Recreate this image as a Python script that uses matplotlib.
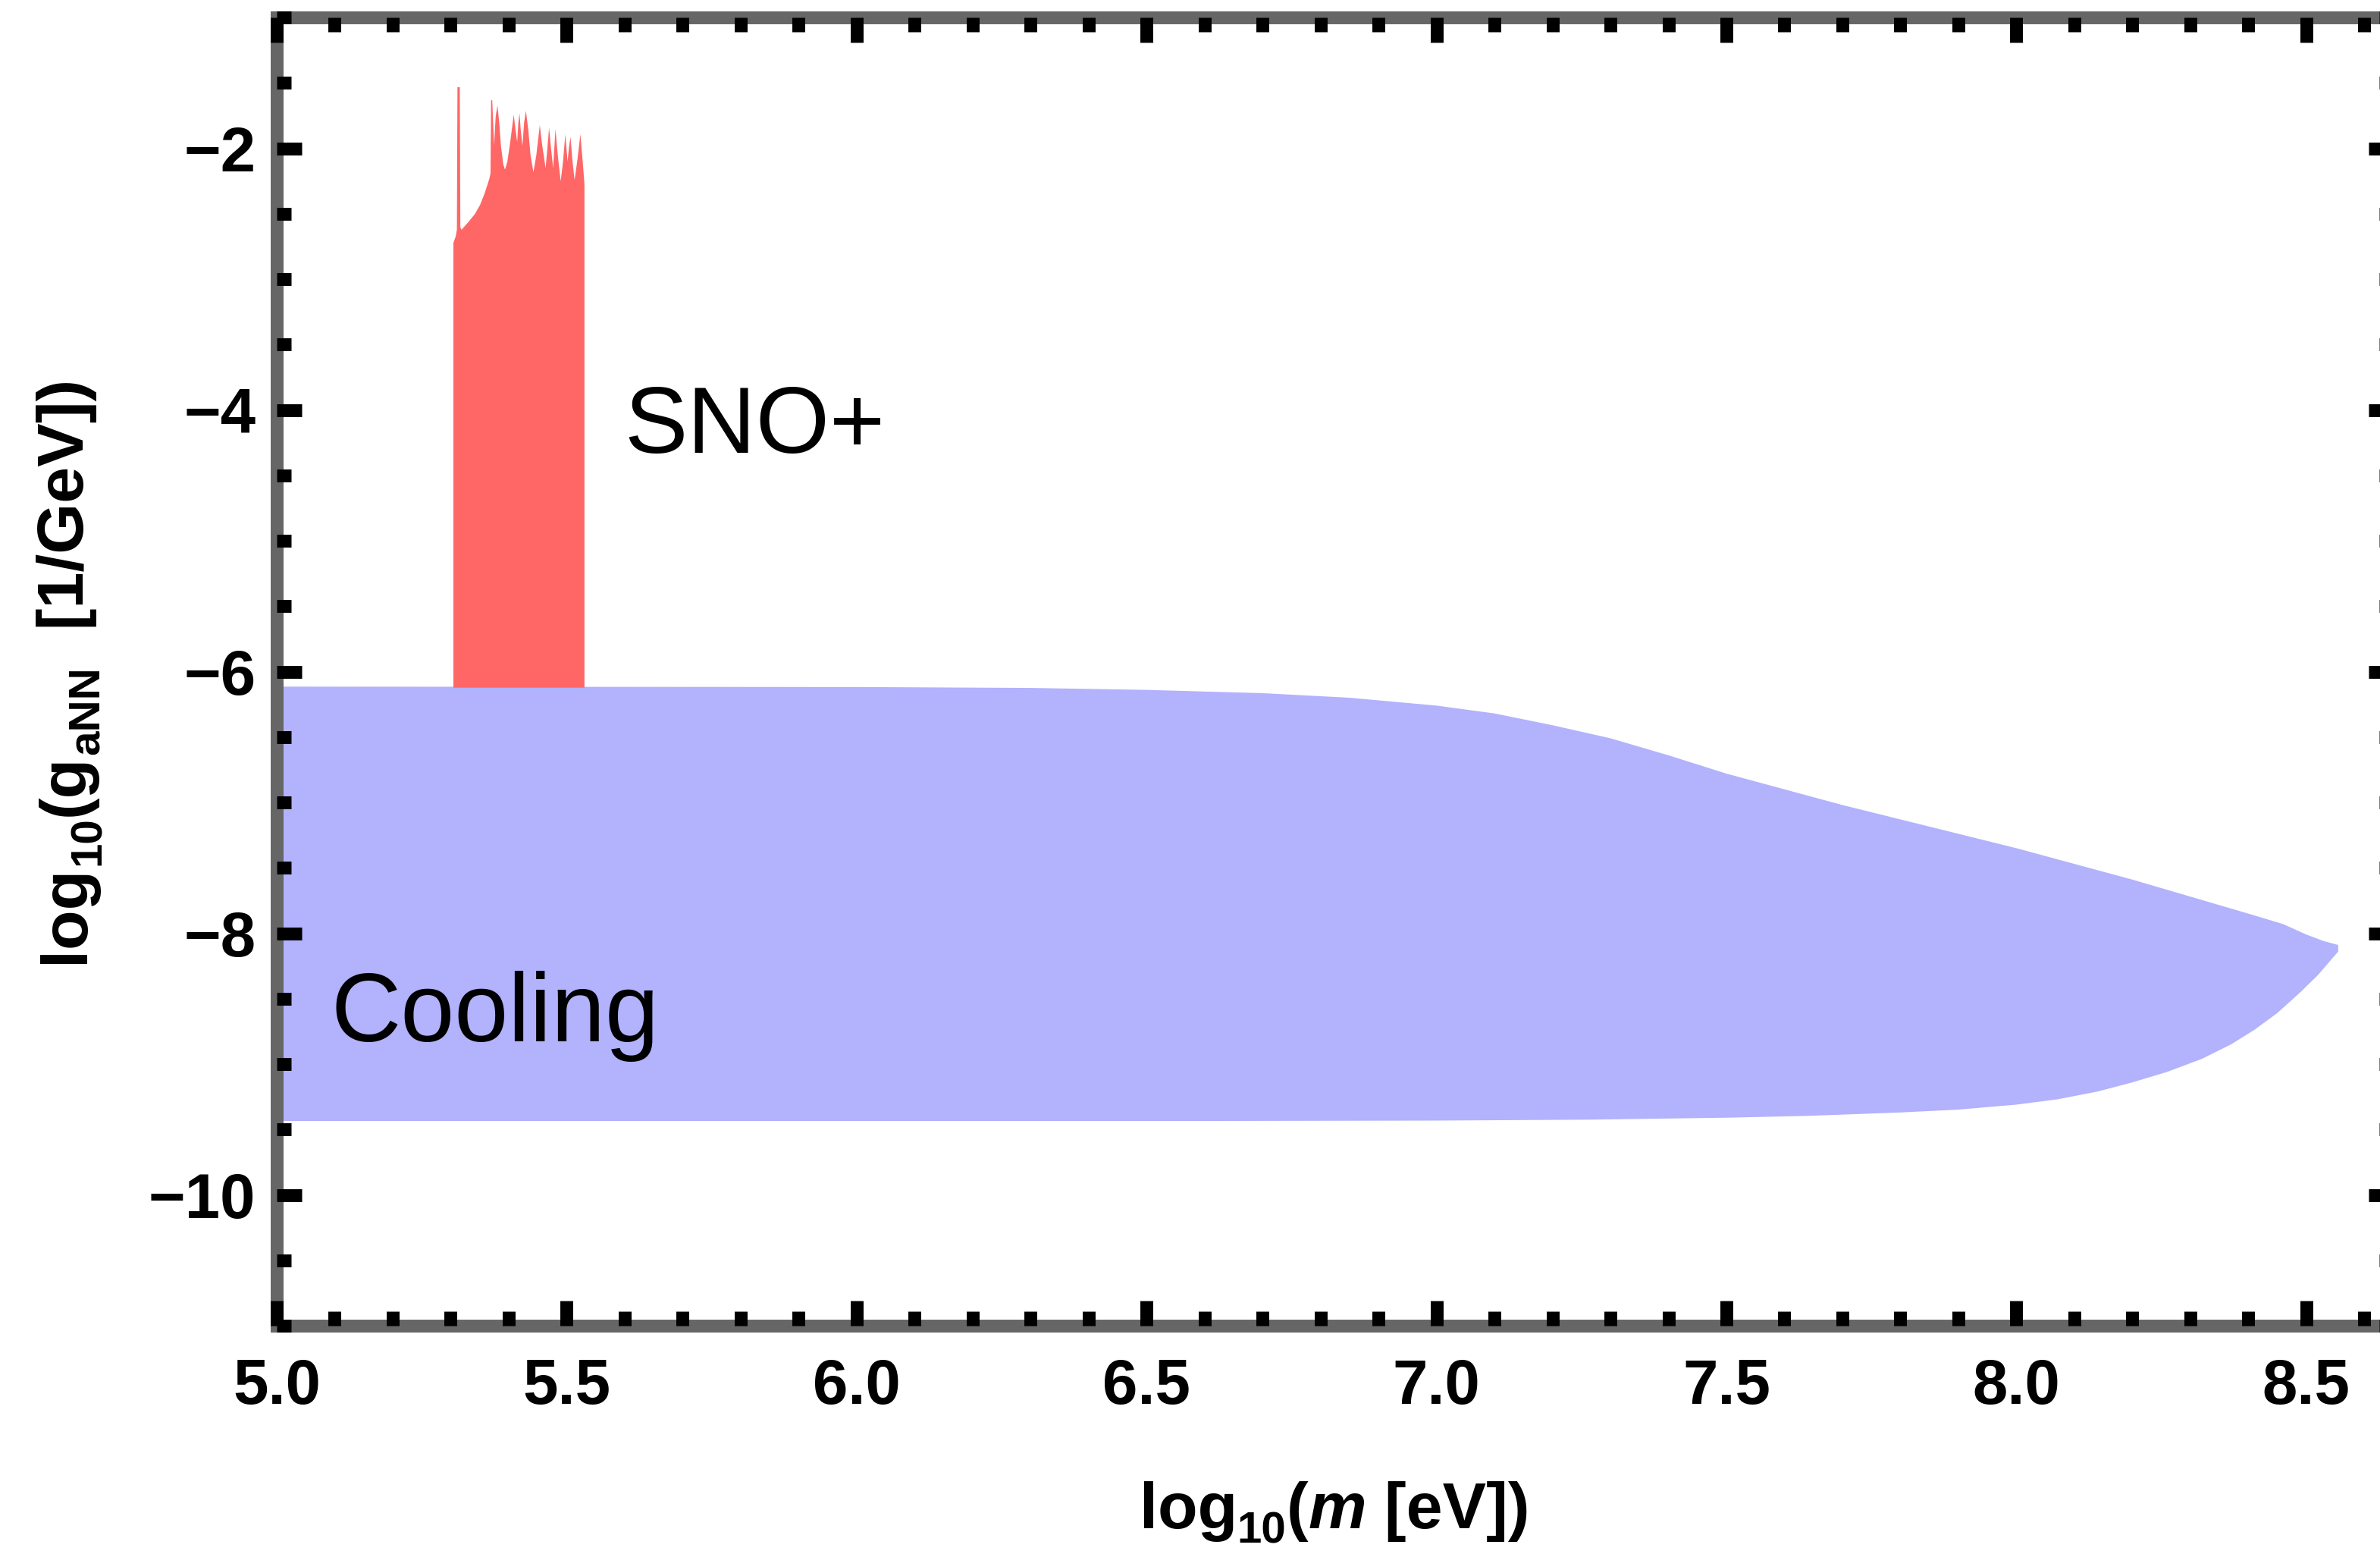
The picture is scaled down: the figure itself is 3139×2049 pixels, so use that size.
import matplotlib
matplotlib.use("Agg")
import matplotlib.pyplot as plt
from matplotlib.ticker import MultipleLocator, FuncFormatter

plt.rcParams['font.family'] = ['Liberation Sans', 'DejaVu Sans']

# cooling bound, upper and lower edges (log10 m, log10 g)
cool_up_x = [5.0, 6.0, 6.3, 6.5, 6.7, 6.85, 7.0, 7.1, 7.2, 7.3, 7.4, 7.5, 7.6, 7.7,
             7.8, 7.9, 8.0, 8.1, 8.2, 8.3, 8.4, 8.46, 8.5, 8.53, 8.555]
cool_up_y = [-6.115, -6.118, -6.125, -6.14, -6.165, -6.20, -6.26, -6.32, -6.41, -6.51,
             -6.64, -6.78, -6.90, -7.02, -7.13, -7.24, -7.35, -7.47, -7.59, -7.72,
             -7.85, -7.93, -8.01, -8.06, -8.09]
cool_lo_x = [5.0, 6.6, 7.0, 7.26, 7.5, 7.64, 7.8, 7.9, 8.0, 8.07, 8.14, 8.2, 8.26,
             8.32, 8.37, 8.41, 8.45, 8.49, 8.52, 8.555]
cool_lo_y = [-9.435, -9.435, -9.432, -9.425, -9.41, -9.396, -9.37, -9.348, -9.31,
             -9.27, -9.21, -9.14, -9.06, -8.96, -8.85, -8.74, -8.61, -8.45, -8.32,
             -8.14]

# SNO+ region, top edge
sno_x = [5.304, 5.308, 5.310, 5.311, 5.315, 5.316, 5.318, 5.330, 5.341, 5.350, 5.358,
         5.366, 5.368, 5.369, 5.371, 5.373, 5.374, 5.377, 5.380, 5.383, 5.386, 5.390,
         5.393, 5.397, 5.402, 5.408, 5.411, 5.414, 5.416, 5.418, 5.420, 5.423, 5.426,
         5.429, 5.433, 5.437, 5.442, 5.447, 5.453, 5.457, 5.463, 5.466, 5.469, 5.472,
         5.476, 5.478, 5.480, 5.484, 5.489, 5.493, 5.497, 5.499, 5.501, 5.503, 5.506,
         5.509, 5.513, 5.518, 5.523, 5.527, 5.530]
sno_y = [-2.72, -2.67, -2.62, -1.53, -1.53, -2.60, -2.62, -2.56, -2.50, -2.43, -2.34,
         -2.23, -2.19, -1.63, -1.63, -1.85, -1.98, -1.75, -1.67, -1.80, -1.98, -2.12,
         -2.16, -2.10, -1.95, -1.74, -1.85, -1.95, -1.80, -1.73, -1.85, -1.98, -1.80,
         -1.71, -1.85, -2.05, -2.18, -2.05, -1.82, -1.97, -2.15, -2.00, -1.84, -1.98,
         -2.15, -2.00, -1.85, -2.05, -2.25, -2.10, -1.89, -2.00, -2.10, -2.00, -1.91,
         -2.08, -2.24, -2.08, -1.89, -2.10, -2.27]
sno_bottom = -6.12

W, H = 3139, 2049
fig = plt.figure(figsize=(W / 200, H / 200), dpi=200)
ax = fig.add_axes([365 / W, 1 - 1748 / H, (3157 - 365) / W, (1748 - 23) / H])

ax.fill(cool_up_x + cool_lo_x[::-1], cool_up_y + cool_lo_y[::-1],
        color='#b2b2fd', lw=0, zorder=1)
ax.fill_between(sno_x, sno_bottom, sno_y, color='#ff6666', lw=0, zorder=1)

ax.text(5.093, -8.825, 'Cooling', fontsize=46, va='baseline', ha='left')
ax.text(5.599, -4.327, 'SNO+', fontsize=45, va='baseline', ha='left')

ax.set_xlim(5.0, 5.0 + (3157 - 365) / 764.8)
ax.set_ylim(-11, -1)

ax.xaxis.set_major_locator(MultipleLocator(0.5))
ax.xaxis.set_minor_locator(MultipleLocator(0.1))
ax.yaxis.set_major_locator(MultipleLocator(2))
ax.yaxis.set_minor_locator(MultipleLocator(0.5))
ax.xaxis.set_major_formatter(FuncFormatter(lambda v, p: '%.1f' % v))
ax.yaxis.set_major_formatter(FuncFormatter(lambda v, p: ('%d' % round(v)).replace('-', '\u2212')))

ax.set_axisbelow(False)
for s in ax.spines.values():
    s.set_color('#666666')
    s.set_linewidth(6.1)
    s.set_zorder(2)
ax.tick_params(which='both', direction='in', top=True, right=True, width=6.1,
               color='black')
ax.tick_params(which='major', length=12)
ax.tick_params(which='minor', length=7)
ax.tick_params(axis='x', which='major', pad=15, labelsize=30)
ax.tick_params(axis='y', which='major', pad=10, labelsize=30)
for lab in ax.get_xticklabels() + ax.get_yticklabels():
    lab.set_fontweight('bold')


# axis labels built from pieces so the subscripts get the right size and drop
def chain_label(pieces, cx, cy, vertical):
    rend = fig.canvas.get_renderer()
    placed = []
    total = 0
    for s, size, style, drop in pieces:
        t = fig.text(0, 0, s, fontsize=size, fontweight='bold', fontstyle=style,
                     ha='left', va='baseline', rotation=90 if vertical else 0,
                     rotation_mode='anchor')
        bb = t.get_window_extent(rend)
        placed.append((t, total, drop * 200 / 72))
        total += bb.height if vertical else bb.width
    for t, off, d in placed:
        if vertical:
            t.set_position(((cx + d) / W, (cy - total / 2 + off) / H))
        else:
            t.set_position(((cx - total / 2 + off) / W, (cy - d) / H))


lab_size = 31
sub_size = 21
chain_label([('log', lab_size, 'normal', 0), ('10', sub_size, 'normal', 7),
             ('(', lab_size, 'normal', 0), ('m', lab_size, 'italic', 0),
             (' [eV])', lab_size, 'normal', 0)],
            1760, H - 2015, False)
chain_label([('log', lab_size, 'normal', 0), ('10', sub_size, 'normal', 8),
             ('(g', lab_size, 'normal', 0), ('aNN', sub_size, 'normal', 7),
             ('  [1/GeV])', lab_size, 'normal', 0)],
            110, H - 885, True)

fig.savefig('out.png', dpi=200)
